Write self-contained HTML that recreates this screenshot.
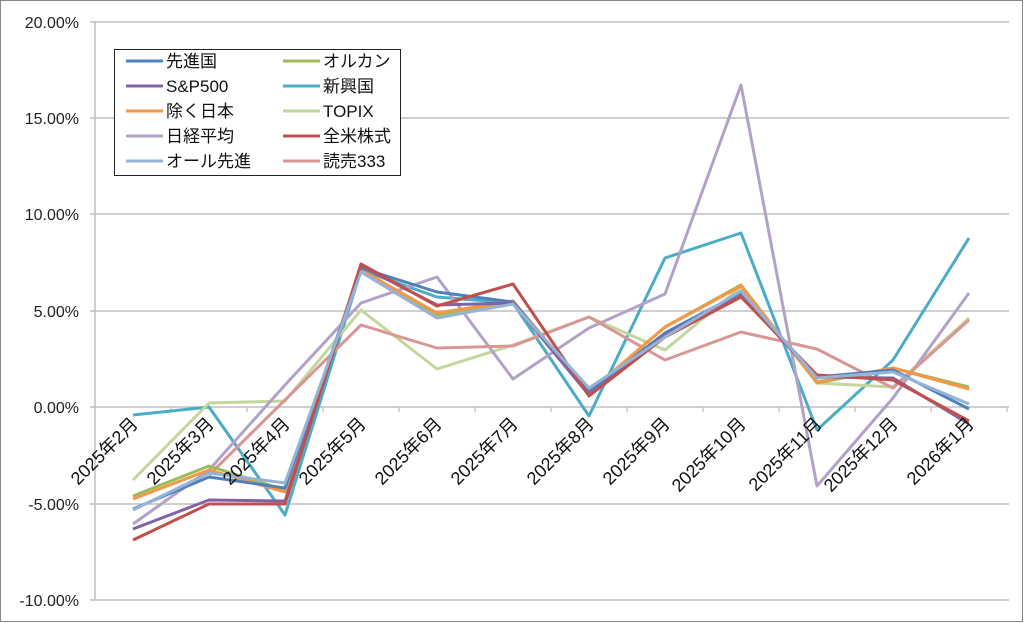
<!DOCTYPE html>
<html><head><meta charset="utf-8"><style>
body{margin:0;background:#fff}
svg{display:block;font-family:"Liberation Sans","Noto Sans CJK JP",sans-serif}
</style></head><body>
<svg width="1024" height="623" viewBox="0 0 1024 623">
<rect x="0.5" y="0.5" width="1022" height="621" fill="#fff" stroke="#888" stroke-width="1"/>
<g stroke="#bfbfbf" stroke-width="1.5">
<line x1="90" y1="22" x2="1009" y2="22"/>
<line x1="90" y1="118" x2="1009" y2="118"/>
<line x1="90" y1="214" x2="1009" y2="214"/>
<line x1="90" y1="311" x2="1009" y2="311"/>
<line x1="90" y1="407" x2="1009" y2="407"/>
<line x1="90" y1="504" x2="1009" y2="504"/>
<line x1="90" y1="600" x2="1009" y2="600"/>
<line x1="95" y1="22" x2="95" y2="600"/>
</g>
<g stroke="#bfbfbf" stroke-width="1.2">
<line x1="171" y1="407" x2="171" y2="412"/><line x1="247" y1="407" x2="247" y2="412"/><line x1="323" y1="407" x2="323" y2="412"/><line x1="399" y1="407" x2="399" y2="412"/><line x1="475" y1="407" x2="475" y2="412"/><line x1="551" y1="407" x2="551" y2="412"/><line x1="627" y1="407" x2="627" y2="412"/><line x1="703" y1="407" x2="703" y2="412"/><line x1="779" y1="407" x2="779" y2="412"/><line x1="855" y1="407" x2="855" y2="412"/><line x1="931" y1="407" x2="931" y2="412"/><line x1="1007" y1="407" x2="1007" y2="412"/>
</g>
<g font-size="16" fill="#222" text-anchor="end">
<text x="79" y="28">20.00%</text>
<text x="79" y="124">15.00%</text>
<text x="79" y="220">10.00%</text>
<text x="79" y="317">5.00%</text>
<text x="79" y="413">0.00%</text>
<text x="79" y="510">-5.00%</text>
<text x="79" y="606">-10.00%</text>
</g>
<g fill="none" stroke-width="3" stroke-linejoin="round">
<polyline stroke="#4BACC6" points="133,415 209,407 285,515 361,270 437,297 513,303 589,416 665,258 741,233 817,430 893,360 969,238"/>
<polyline stroke="#C3D69B" points="133,480 209,403 285,401 361,310 437,369 513,345 589,317 665,350 741,287 817,383 893,387 969,318"/>
<polyline stroke="#B3A2C7" points="133,524 209,470 285,385 361,303 437,277 513,379 589,328 665,294 741,85 817,486 893,398 969,293"/>
<polyline stroke="#D99694" points="209,475 285,400 361,325 437,348 513,346 589,317 665,360 741,332 817,349 893,388 969,320"/>
<polyline stroke="#9BBB59" points="133,496 209,466 285,490 361,270 437,315 513,301 589,392 665,327 741,285 817,383 893,368 969,387"/>
<polyline stroke="#F79646" points="133,499 209,470 285,492 361,270 437,313 513,301 589,392 665,327 741,286 817,382 893,368 969,389"/>
<polyline stroke="#4F81BD" points="133,509 209,477 285,488 361,268 437,292 513,302 589,392 665,333 741,293 817,377 893,370 969,409"/>
<polyline stroke="#8064A2" points="133,529 209,500 285,501 361,266 437,305 513,303 589,395 665,335 741,296 817,377 893,378 969,424"/>
<polyline stroke="#C0504D" points="133,540 209,504 285,504 361,264 437,306 513,284 589,396 665,337 741,297 817,375 893,380 969,421"/>
<polyline stroke="#95B3D7" points="133,510 209,473 285,483 361,272 437,318 513,304 589,388 665,337 741,291 817,378 893,372 969,404"/>
</g>
<g font-size="18" fill="#111" text-anchor="end">
<text transform="translate(139,425) rotate(-45)">2025年2月</text>
<text transform="translate(215,425) rotate(-45)">2025年3月</text>
<text transform="translate(291,425) rotate(-45)">2025年4月</text>
<text transform="translate(367,425) rotate(-45)">2025年5月</text>
<text transform="translate(443,425) rotate(-45)">2025年6月</text>
<text transform="translate(519,425) rotate(-45)">2025年7月</text>
<text transform="translate(595,425) rotate(-45)">2025年8月</text>
<text transform="translate(671,425) rotate(-45)">2025年9月</text>
<text transform="translate(747,425) rotate(-45)">2025年10月</text>
<text transform="translate(823,425) rotate(-45)">2025年11月</text>
<text transform="translate(899,425) rotate(-45)">2025年12月</text>
<text transform="translate(975,425) rotate(-45)">2026年1月</text>
</g>
<rect x="114.5" y="49.5" width="286" height="126" fill="#fff" stroke="#222" stroke-width="1"/>
<g stroke-width="3">
<line x1="126" y1="61" x2="163" y2="61" stroke="#4F81BD"/>
<line x1="126" y1="86" x2="163" y2="86" stroke="#8064A2"/>
<line x1="126" y1="111" x2="163" y2="111" stroke="#F79646"/>
<line x1="126" y1="136" x2="163" y2="136" stroke="#B3A2C7"/>
<line x1="126" y1="161" x2="163" y2="161" stroke="#95B3D7"/>
<line x1="283" y1="61" x2="320" y2="61" stroke="#9BBB59"/>
<line x1="283" y1="86" x2="320" y2="86" stroke="#4BACC6"/>
<line x1="283" y1="111" x2="320" y2="111" stroke="#C3D69B"/>
<line x1="283" y1="136" x2="320" y2="136" stroke="#C0504D"/>
<line x1="283" y1="161" x2="320" y2="161" stroke="#D99694"/>
</g>
<g font-size="17" fill="#111">
<text x="166" y="67">先進国</text>
<text x="166" y="92">S&amp;P500</text>
<text x="166" y="117">除く日本</text>
<text x="166" y="142">日経平均</text>
<text x="166" y="167">オール先進</text>
<text x="323" y="67">オルカン</text>
<text x="323" y="92">新興国</text>
<text x="323" y="117">TOPIX</text>
<text x="323" y="142">全米株式</text>
<text x="323" y="167">読売333</text>
</g>
</svg>
</body></html>
